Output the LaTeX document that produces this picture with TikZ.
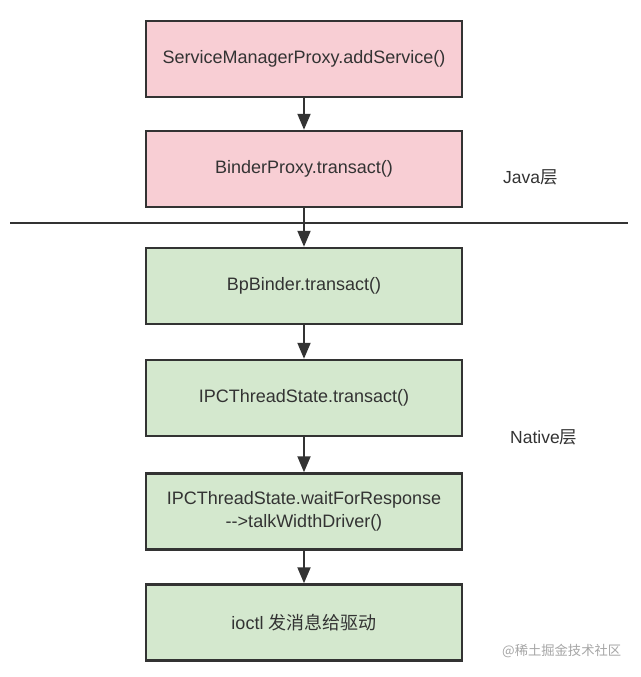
\documentclass[tikz,border=0pt]{standalone}
\usepackage{fontspec}
\setmainfont{Liberation Sans}
\newfontfamily\cjk{Noto Sans CJK SC}
\usetikzlibrary{arrows.meta}
\definecolor{pinkfill}{RGB}{248,206,212}
\definecolor{greenfill}{RGB}{212,232,206}
\definecolor{edge}{RGB}{51,51,51}
\definecolor{txt}{RGB}{51,51,51}
\begin{document}
\begin{tikzpicture}[x=1pt,y=-1pt,
  box/.style={draw=edge,line width=2.5pt,minimum width=316pt,minimum height=76pt,
    inner sep=0pt,align=center,text=txt,font=\fontsize{18}{23}\selectfont},
  pinkbox/.style={box,fill=pinkfill},
  greenbox/.style={box,fill=greenfill},
  flow/.style={draw=edge,line width=2pt,-{Triangle[length=16pt,width=13pt]}},
  layer/.style={text=txt,font=\fontsize{17.5}{20}\selectfont,inner sep=0pt}]
\useasboundingbox[fill=white] (0,0) rectangle (640,677);
\node[pinkbox] (a) at (304,59) {ServiceManagerProxy.addService()};
\node[pinkbox] (b) at (304,169) {BinderProxy.transact()};
\node[greenbox] (c) at (304,286) {BpBinder.transact()};
\node[greenbox] (d) at (304,398) {IPCThreadState.transact()};
\node[greenbox] (e) at (304,511.5) {IPCThreadState.waitForResponse\\-{}->talkWidthDriver()};
\node[greenbox] (f) at (304,622.5) {ioctl {\cjk 发消息给驱动}};
\coordinate (l1) at (10,223);
\coordinate (l2) at (628,223);
\draw[draw=edge,line width=2pt] (l1) -- (l2);
\draw[flow] (a) -- (b);
\draw[flow] (b) -- (c);
\draw[flow] (c) -- (d);
\draw[flow] (d) -- (e);
\draw[flow] (e) -- (f);
\node[layer,anchor=west] (java) at (503,177) {Java{\cjk 层}};
\node[layer,anchor=west] (native) at (510,437) {Native{\cjk 层}};
\node[anchor=west,inner sep=0pt,text=black!35,font=\cjk\fontsize{13.3}{15}\selectfont] (wm) at (502,651) {@稀土掘金技术社区};
\end{tikzpicture}
\end{document}
